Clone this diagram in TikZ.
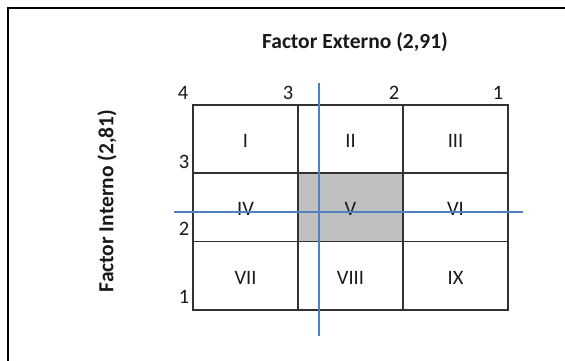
\documentclass[tikz,border=0pt]{standalone}
\usepackage{fontspec}
\setmainfont{Carlito}
\definecolor{gridgray}{RGB}{50,50,50}
\definecolor{axisblue}{RGB}{79,129,189}
\definecolor{midgray}{RGB}{192,192,192}
\definecolor{inkdark}{RGB}{25,25,25}
\begin{document}
\begin{tikzpicture}[x=1pt,y=-1pt,
  cell/.style={draw=gridgray, line width=1.6pt, minimum width=105pt,
    minimum height=68.3pt, inner sep=0pt, text=inkdark,
    font=\fontsize{20.5}{24}\selectfont, text height=17pt, text depth=0pt},
  tick/.style={inner sep=0pt, text=inkdark, font=\fontsize{20.5}{24}\selectfont},
  heading/.style={inner sep=0pt, text=inkdark, font=\fontsize{21.5}{26}\selectfont\bfseries},
  axisline/.style={draw=axisblue, line width=1.3pt}]
\useasboundingbox (0,0) rectangle (565,361);
% outer frame (left and top edges)
\draw[line width=1.8pt, black] (565,8) -- (8,8) -- (8,361);

% titles
\node[heading] (ext) at (355,42) {Factor Externo (2,91)};
\node[heading, rotate=90] (int) at (107,201) {Factor Interno (2,81)};

% 3x3 matrix
\node[cell] (c1) at (245.5,139) {I};
\node[cell] (c2) at (350.5,139) {II};
\node[cell] (c3) at (455.5,139) {III};
\node[cell] (c4) at (245.5,207.3) {IV};
\node[cell, fill=midgray] (c5) at (350.5,207.3) {V};
\node[cell] (c6) at (455.5,207.3) {VI};
\node[cell] (c7) at (245.5,275.6) {VII};
\node[cell] (c8) at (350.5,275.6) {VIII};
\node[cell] (c9) at (455.5,275.6) {IX};

% scale values
\node[tick] (x4) at (183,93) {4};
\node[tick] (x3) at (288,93) {3};
\node[tick] (x2) at (394,93) {2};
\node[tick] (x1) at (498,93) {1};
\node[tick] (y3) at (184,162) {3};
\node[tick] (y2) at (184,229) {2};
\node[tick] (y1) at (184,297) {1};

% weighted averages
\coordinate (vtop) at (319,83);
\coordinate (vbot) at (319,336);
\coordinate (hleft) at (174,212);
\coordinate (hright) at (523,212);
\draw[axisline] (vtop) -- (vbot);
\draw[axisline] (hleft) -- (hright);
\end{tikzpicture}
\end{document}
